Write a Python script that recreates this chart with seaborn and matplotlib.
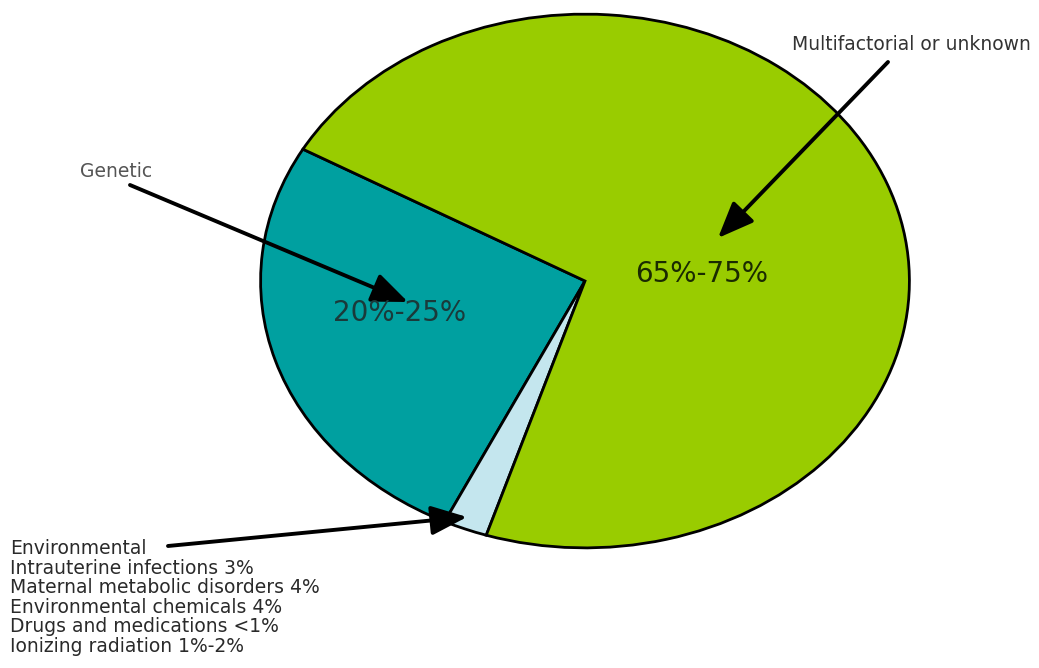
import matplotlib
matplotlib.use("Agg")
import matplotlib.pyplot as plt
import seaborn as sns

sns.set_theme(style="white")
plt.rcParams['font.family'] = ['DejaVu Sans']

# Data (wedge shares as drawn, percent of full ellipse)
categories = ["Genetic", "Environmental", "Multifactorial or unknown"]
shares = [26.1, 2.2, 71.7]
colors = ["#00A0A0", "#C4E6EE", "#99CC00"]
pct_labels = ["20%-25%", "", "65%-75%"]
env_lines = ["Environmental",
             "Intrauterine infections 3%",
             "Maternal metabolic disorders 4%",
             "Environmental chemicals 4%",
             "Drugs and medications <1%",
             "Ionizing radiation 1%-2%"]

W, H = 1039, 668
fig = plt.figure(figsize=(W / 100, H / 100), dpi=100)
fig.patch.set_facecolor("white")

# Ellipse bounding box in pixels (left, top, right, bottom)
L, T, R, B = 258, 12, 912, 550
ax = fig.add_axes([L / W, 1 - B / H, (R - L) / W, (B - T) / H])
ax.pie(shares, colors=colors, startangle=150.4, counterclock=True,
       wedgeprops=dict(edgecolor="black", linewidth=2.0), radius=1.0)
ax.set_aspect("auto")
ax.set_xlim(-1.008, 1.008)
ax.set_ylim(-1.008, 1.008)
ax.axis("off")

def fx(x):
    return x / W

def fy(y):
    return 1 - y / H

# Percentage labels
fig.text(fx(400), fy(313), pct_labels[0], fontsize=20, color="#1a3a3a",
         ha="center", va="center")
fig.text(fx(702), fy(274), pct_labels[2], fontsize=20, color="#1a2a00",
         ha="center", va="center")

small = 13.5
# Category labels
fig.text(fx(80), fy(172), categories[0], fontsize=small, color="#555555",
         ha="left", va="center")
fig.text(fx(1031), fy(45), categories[2], fontsize=small, color="#333333",
         ha="right", va="center")
for i, line in enumerate(env_lines):
    fig.text(fx(10), fy(549 + i * 19.4), line, fontsize=small, color="#2a2a2a",
             ha="left", va="center")

# Arrows (figure pixel coordinates)
arrow_kw = dict(arrowstyle="-|>,head_length=1.1,head_width=0.45",
                color="black", lw=2.8, shrinkA=0, shrinkB=0)
def arrow(x0, y0, x1, y1):
    fig.add_artist(matplotlib.patches.FancyArrowPatch(
        (fx(x0), fy(y0)), (fx(x1), fy(y1)), transform=fig.transFigure,
        mutation_scale=20, **arrow_kw))

arrow(130, 185, 408, 302)
arrow(888, 62, 718, 238)
arrow(168, 546, 467, 517)

fig.savefig("out.png", dpi=100, facecolor="white")
